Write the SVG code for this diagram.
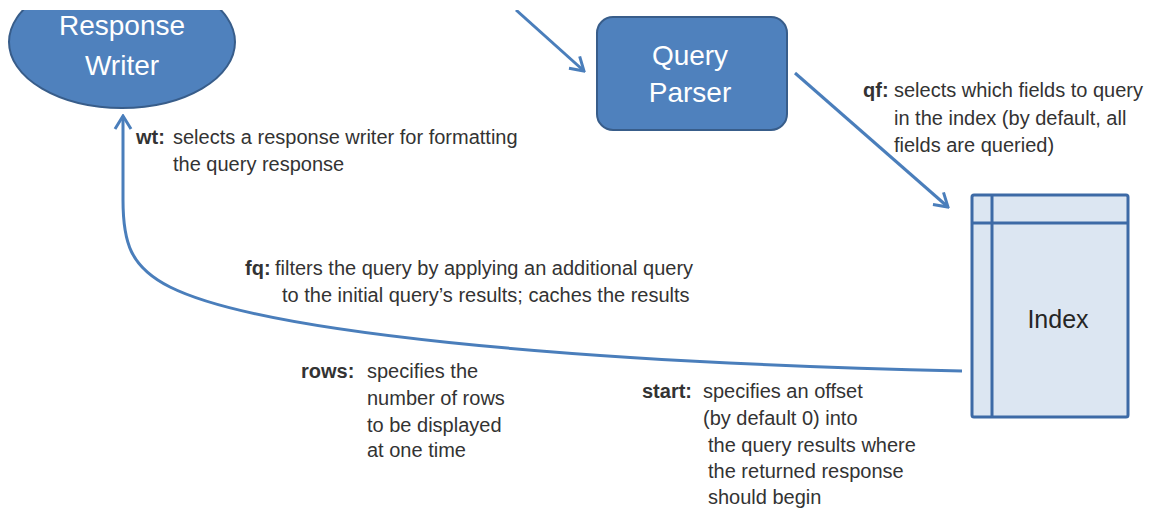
<svg xmlns="http://www.w3.org/2000/svg" width="1156" height="510" viewBox="0 0 1156 510">
<style>
.lbl{font-family:"Liberation Sans",Arial,sans-serif;font-size:20px;fill:#333333}
.key{font-weight:bold}
.title{font-family:"Liberation Sans",Arial,sans-serif;font-size:28px;fill:#ffffff;text-anchor:middle}
.conn{fill:none;stroke:#4A7EBB;stroke-width:3}
</style>
<defs>
<clipPath id="top"><rect x="0" y="10" width="1156" height="500"/></clipPath>
<marker id="arr" markerUnits="userSpaceOnUse" viewBox="-16 -10 18 20" markerWidth="18" markerHeight="20" refX="0" refY="0" orient="auto">
<path d="M-13,-8 L0,0 L-13,8" fill="none" stroke="#4A7EBB" stroke-width="3" stroke-linejoin="miter"/>
</marker>
</defs>
<rect width="1156" height="510" fill="#ffffff"/>
<g id="connectors" clip-path="url(#top)">
<path class="conn" d="M516,10 L584,71" marker-end="url(#arr)"/>
<path class="conn" d="M795,73 L948,207" marker-end="url(#arr)"/>
<path class="conn" d="M962,371 C560,362 260,332 170,287 C130,267 123,242 123,200 L123,116" marker-end="url(#arr)"/>
</g>
<g id="response-writer" clip-path="url(#top)">
<ellipse cx="122" cy="42" rx="113" ry="66" fill="#4F81BD" stroke="#385D8A" stroke-width="2"/>
<text class="title" x="122" y="35">Response</text>
<text class="title" x="122" y="75">Writer</text>
</g>
<g id="query-parser">
<rect x="597" y="17" width="190" height="113" rx="16" fill="#4F81BD" stroke="#385D8A" stroke-width="2"/>
<text class="title" x="690" y="65" font-size="29">Query</text>
<text class="title" x="690" y="102" font-size="29">Parser</text>
</g>
<g id="index">
<rect x="972" y="195" width="156" height="222" rx="2" fill="#DCE6F2" stroke="#3D6AA6" stroke-width="3"/>
<line x1="992" y1="195" x2="992" y2="417" stroke="#3D6AA6" stroke-width="3"/>
<line x1="972" y1="223" x2="1128" y2="223" stroke="#3D6AA6" stroke-width="3"/>
<text x="1058" y="328" font-family="'Liberation Sans',Arial,sans-serif" font-size="25" fill="#262626" text-anchor="middle">Index</text>
</g>
<g id="label-wt">
<text class="lbl"><tspan class="key" x="136" y="144">wt:</tspan><tspan x="173" y="144">selects a response writer for formatting</tspan><tspan x="173" y="171">the query response</tspan></text>
</g>
<g id="label-qf">
<text class="lbl"><tspan class="key" x="863" y="97">qf:</tspan><tspan x="894" y="97">selects which fields to query</tspan><tspan x="894" y="125">in the index (by default, all</tspan><tspan x="894" y="152">fields are queried)</tspan></text>
</g>
<g id="label-fq">
<text class="lbl"><tspan class="key" x="245" y="275">fq:</tspan><tspan x="275" y="275">filters the query by applying an additional query</tspan><tspan x="282" y="302">to the initial query’s results;  caches  the results</tspan></text>
</g>
<g id="label-rows">
<text class="lbl"><tspan class="key" x="301" y="378">rows:</tspan><tspan x="367" y="378">specifies the</tspan><tspan x="367" y="405">number of rows</tspan><tspan x="367" y="432">to be displayed</tspan><tspan x="367" y="457">at one time</tspan></text>
</g>
<g id="label-start">
<text class="lbl"><tspan class="key" x="642" y="398">start:</tspan><tspan x="703" y="398">specifies an offset</tspan><tspan x="703" y="425">(by default 0) into</tspan><tspan x="708" y="452">the query results where</tspan><tspan x="708" y="478">the returned response</tspan><tspan x="708" y="504">should begin</tspan></text>
</g>
</svg>
